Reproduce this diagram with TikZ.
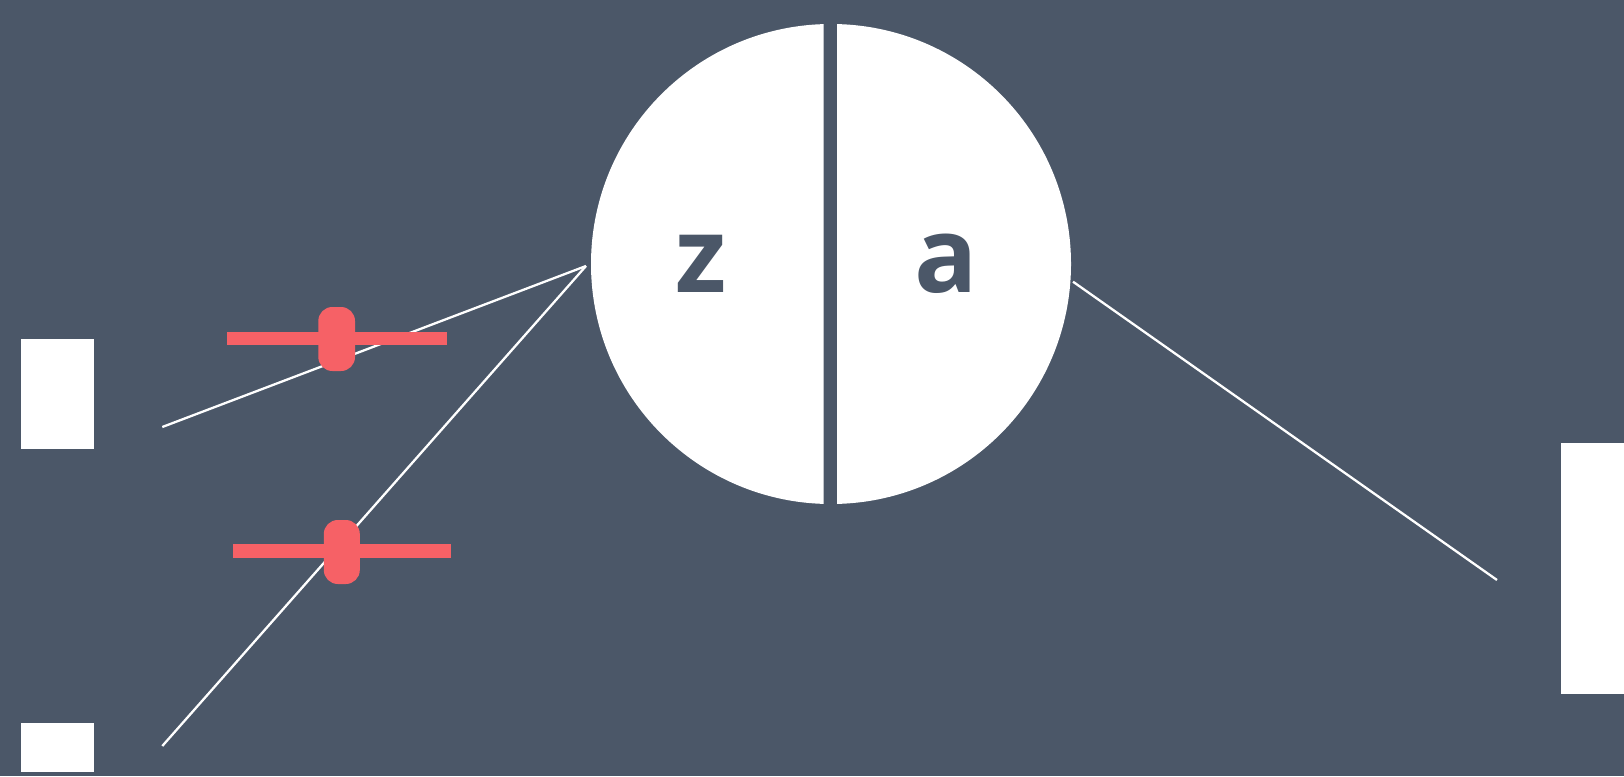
\documentclass[tikz,border=0pt]{standalone}
\usepackage{fontspec}
\newfontfamily\labelfont{Open Sans}
\definecolor{bgc}{HTML}{4B5768}
\definecolor{redc}{HTML}{F66166}
\tikzset{
  block/.style={fill=white},
  wire/.style={draw=white, line width=2.3pt},
  bar/.style={fill=redc},
  pill/.style={fill=redc, rounded corners=14pt},
  letter/.style={anchor=base, inner sep=0pt, text=bgc, font=\labelfont\bfseries\fontsize{105}{105}\selectfont}
}
\begin{document}
\begin{tikzpicture}[x=1pt,y=-1pt]
\useasboundingbox (0,0) rectangle (1624,776);
\fill[bgc] (0,0) rectangle (1624,776);
% neuron circle split in two halves
\begin{scope}
  \clip (0,0) rectangle (823.5,776);
  \fill[white] (831,264) circle (240);
\end{scope}
\begin{scope}
  \clip (837.2,0) rectangle (1624,776);
  \fill[white] (831,264) circle (240);
\end{scope}
\node[letter] (z) at (701,292.7) {z};
\node[letter] (a) at (946,292.7) {a};
% input / output blocks
\fill[block] (20.7,338.7) rectangle (94.2,448.8);
\fill[block] (20.7,723) rectangle (94.2,771.6);
\fill[block] (1560.8,443.3) rectangle (1624,694.3);
% connector ends
\coordinate (in1) at (162.3,427);
\coordinate (in2) at (162.3,746);
\coordinate (apex) at (586,266);
\coordinate (outs) at (1073,281.7);
\coordinate (oute) at (1497,580);
\draw[wire] (in1) -- (apex);
\draw[wire] (in2) -- (apex);
\draw[wire] (outs) -- (oute);
% red weight sliders
\fill[bar] (227,331.5) rectangle (446.5,345);
\fill[pill] (318.3,307) rectangle (355,371);
\fill[bar] (232.5,544) rectangle (451,558);
\fill[pill] (323.8,520) rectangle (359.8,584);
\end{tikzpicture}
\end{document}
